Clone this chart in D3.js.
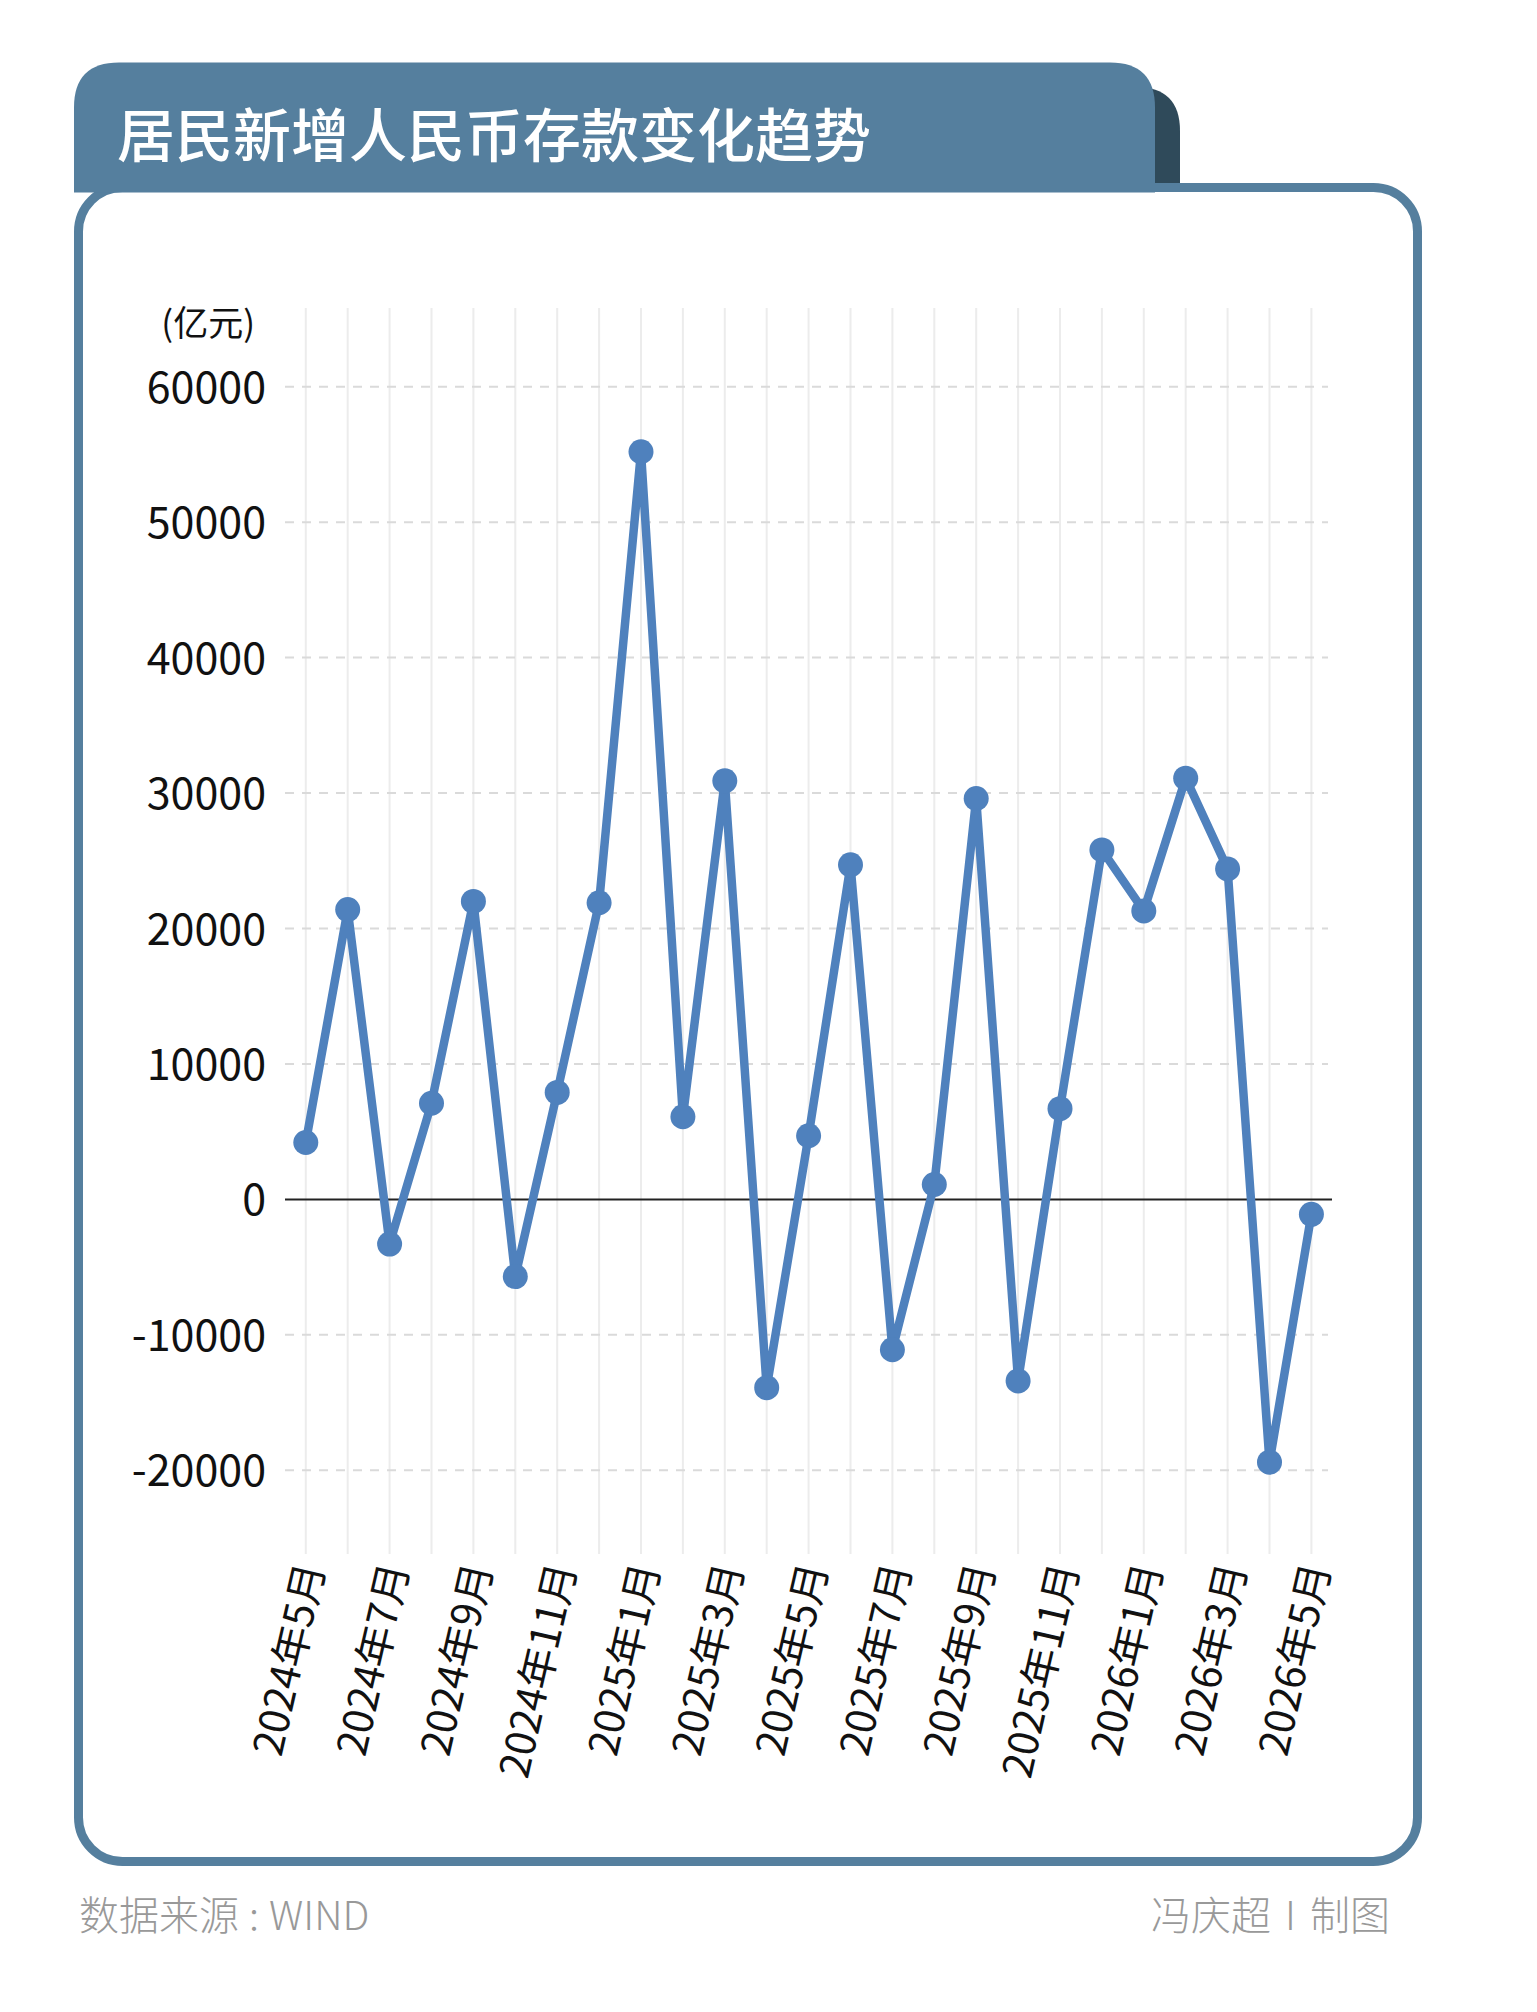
<!DOCTYPE html>
<html>
<head>
<meta charset="utf-8">
<script src="https://cdn.jsdelivr.net/npm/d3@7"></script>
<style>
  html, body { margin: 0; padding: 0; background: #fff; }
  svg { display: block; font-family: "Noto Sans CJK SC", "Noto Sans", sans-serif; }
</style>
</head>
<body>
<div id="chart"></div>
<script>
// monthly new household RMB deposits, 亿元
const months = [
  "2024年5月", "2024年6月", "2024年7月", "2024年8月", "2024年9月", "2024年10月",
  "2024年11月", "2024年12月", "2025年1月", "2025年2月", "2025年3月", "2025年4月",
  "2025年5月", "2025年6月", "2025年7月", "2025年8月", "2025年9月", "2025年10月",
  "2025年11月", "2025年12月", "2026年1月", "2026年2月", "2026年3月", "2026年4月",
  "2026年5月"
];
const deposits = [
  4200, 21400, -3300, 7100, 22000, -5700,
  7900, 21900, 55200, 6100, 30900, -13900,
  4700, 24700, -11100, 1100, 29600, -13400,
  6700, 25800, 21300, 31100, 24400, -19400,
  -1100
];
const yTicks = [60000, 50000, 40000, 30000, 20000, 10000, 0, -10000, -20000];
const title = "居民新增人民币存款变化趋势";
const unitLabel = "(亿元)";
const sourceParts = ["数据来源", ":", "WIND"];
const creditParts = ["冯庆超", "I", "制图"];

const width = 1537;
const height = 2012;
const blue = "#557f9e";
const dark = "#2f4a5a";
const lineColor = "#4f81bd";
const footColor = "#999";

const svg = d3.select("#chart").append("svg")
  .attr("width", width)
  .attr("height", height);

// banner with rounded top corners, square bottom
function tabPath(x0, y0, x1, y1, r) {
  return `M${x0},${y1} L${x0},${y0 + r} Q${x0},${y0} ${x0 + r},${y0} ` +
    `L${x1 - r},${y0} Q${x1},${y0} ${x1},${y0 + r} L${x1},${y1} Z`;
}

// dark shadow tab behind the banner
svg.append("path")
  .attr("d", tabPath(1000, 87, 1180, 200, 44))
  .attr("fill", dark);

// card
svg.append("rect")
  .attr("x", 78.5)
  .attr("y", 187.5)
  .attr("width", 1417.5 - 78.5)
  .attr("height", 1861.5 - 187.5)
  .attr("rx", 44)
  .attr("fill", "#fff")
  .attr("stroke", blue)
  .attr("stroke-width", 9);

// title banner
svg.append("path")
  .attr("d", tabPath(74, 62.5, 1155, 192.5, 45))
  .attr("fill", blue);

svg.append("text")
  .attr("x", 117)
  .attr("y", 157)
  .attr("fill", "#fff")
  .attr("font-size", 58)
  .attr("font-weight", 500)
  .text(title);

// scales
const x = d3.scalePoint().domain(months).range([305.8, 1311.4]);
const y = d3.scaleLinear().domain([-20000, 60000]).range([1470.3, 386.7]);

const g = svg.append("g");

// vertical grid
g.selectAll(".vgrid")
  .data(months)
  .enter()
  .append("line")
  .attr("class", "vgrid")
  .attr("x1", d => x(d))
  .attr("x2", d => x(d))
  .attr("y1", 308)
  .attr("y2", 1554)
  .attr("stroke", "#ececec")
  .attr("stroke-width", 2);

// horizontal dashed grid
g.selectAll(".hgrid")
  .data(yTicks.filter(d => d !== 0))
  .enter()
  .append("line")
  .attr("class", "hgrid")
  .attr("x1", 285)
  .attr("x2", 1328)
  .attr("y1", d => y(d))
  .attr("y2", d => y(d))
  .attr("stroke", "#dadada")
  .attr("stroke-width", 2)
  .attr("stroke-dasharray", "9,8");

// zero line
g.append("line")
  .attr("x1", 285)
  .attr("x2", 1332)
  .attr("y1", y(0))
  .attr("y2", y(0))
  .attr("stroke", "#222")
  .attr("stroke-width", 2);

// y labels
g.selectAll(".ylabel")
  .data(yTicks)
  .enter()
  .append("text")
  .attr("class", "ylabel")
  .attr("x", 266)
  .attr("y", d => y(d) + 16)
  .attr("text-anchor", "end")
  .attr("font-size", 43)
  .attr("fill", "#111")
  .text(d => d);

g.append("text")
  .attr("x", 255)
  .attr("y", 336)
  .attr("text-anchor", "end")
  .attr("font-size", 35)
  .attr("fill", "#111")
  .text(unitLabel);

// x labels, every other month
g.selectAll(".xlabel")
  .data(months.filter((d, i) => i % 2 === 0))
  .enter()
  .append("text")
  .attr("class", "xlabel")
  .attr("transform", d => `translate(${x(d) + 2},1563) rotate(-77)`)
  .attr("text-anchor", "end")
  .attr("dominant-baseline", "central")
  .attr("font-size", 41)
  .attr("fill", "#111")
  .text(d => d);

// series
const line = d3.line()
  .x((d, i) => x(months[i]))
  .y(d => y(d));

g.append("path")
  .datum(deposits)
  .attr("d", line)
  .attr("fill", "none")
  .attr("stroke", lineColor)
  .attr("stroke-width", 8.5)
  .attr("stroke-linejoin", "round");

g.selectAll(".dot")
  .data(deposits)
  .enter()
  .append("circle")
  .attr("class", "dot")
  .attr("cx", (d, i) => x(months[i]))
  .attr("cy", d => y(d))
  .attr("r", 12.5)
  .attr("fill", lineColor);

// footer
const src = svg.append("text")
  .attr("x", 79)
  .attr("y", 1930)
  .attr("font-size", 40)
  .attr("font-weight", 300)
  .attr("fill", footColor);
src.selectAll("tspan")
  .data(sourceParts)
  .enter()
  .append("tspan")
  .attr("dx", (d, i) => i === 0 ? 0 : 10)
  .text(d => d);

const credit = svg.append("text")
  .attr("x", 1390)
  .attr("y", 1930)
  .attr("text-anchor", "end")
  .attr("font-size", 40)
  .attr("font-weight", 300)
  .attr("fill", footColor);
credit.selectAll("tspan")
  .data(creditParts)
  .enter()
  .append("tspan")
  .attr("dx", (d, i) => i === 0 ? 0 : 14)
  .text(d => d);
</script>
</body>
</html>
